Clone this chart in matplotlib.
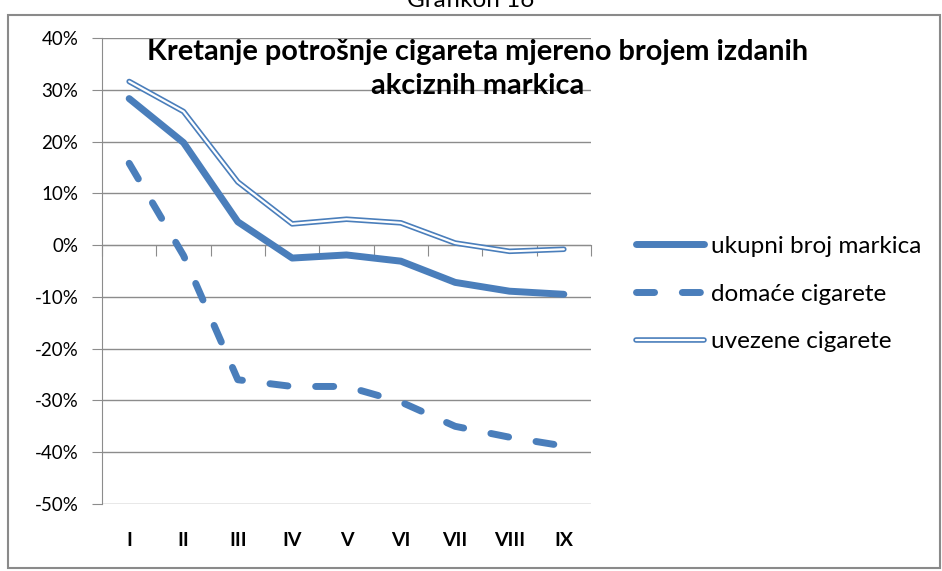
import matplotlib
matplotlib.use("Agg")
import matplotlib.pyplot as plt
from matplotlib.lines import Line2D
from matplotlib.patches import Rectangle

# Podaci (%)
months = ["I", "II", "III", "IV", "V", "VI", "VII", "VIII", "IX"]
ukupni = [28.3, 19.8, 4.5, -2.5, -1.9, -3.1, -7.2, -8.9, -9.5]
domace = [15.8, -2.0, -26.0, -27.3, -27.3, -30.3, -35.0, -37.1, -38.8]
uvezene = [31.6, 25.8, 12.2, 4.1, 5.0, 4.3, 0.4, -1.2, -0.8]

labels = ["ukupni broj markica", "domaće cigarete", "uvezene cigarete"]
yticks = list(range(-50, 41, 10))

blue = "#4a7ebb"
grid_col = "#8c8c8c"

plt.rcParams["font.family"] = ["Lato", "DejaVu Sans"]
plt.rcParams["lines.scale_dashes"] = False

W, H = 942, 571
fig = plt.figure(figsize=(W / 100, H / 100), dpi=100)
ax = fig.add_axes([102 / W, 1 - 504 / H, (591 - 102) / W, (504 - 38) / H])

x = list(range(len(months)))

ax.plot(x, ukupni, color=blue, lw=5.0, solid_capstyle="round",
        solid_joinstyle="round", zorder=4)
ax.plot(x, domace, color=blue, lw=5.0, dashes=(13, 20),
        dash_capstyle="round", dash_joinstyle="round", zorder=4)
ax.plot(x, uvezene, color=blue, lw=4.0, solid_capstyle="round",
        solid_joinstyle="round", zorder=4)
ax.plot(x, uvezene, color="white", lw=1.6, solid_capstyle="round",
        solid_joinstyle="round", zorder=5)

ax.set_xlim(-0.5, len(months) - 0.5)
ax.set_ylim(-50, 40)
ax.set_yticks(yticks)
ax.set_yticklabels([f"{v}%" for v in yticks], fontsize=13.5)
ax.yaxis.grid(True, color=grid_col, lw=1.0)
ax.set_axisbelow(True)
ax.tick_params(axis="y", length=7, color=grid_col, pad=10)

ax.set_xticks(x)
ax.set_xticklabels(months, fontsize=14, fontweight="bold")
ax.tick_params(axis="x", length=0, pad=20)

for s in ["top", "right", "bottom"]:
    ax.spines[s].set_visible(False)
ax.spines["left"].set_color(grid_col)

# horizontalna os na 0%
sec = ax.secondary_xaxis(0, transform=ax.transData)
sec.set_xticks([i - 0.5 for i in range(len(months) + 1)])
sec.set_xticklabels([])
sec.tick_params(axis="x", direction="out", length=8, color=grid_col)
sec.spines["bottom"].set_color(grid_col)

fig.text(478 / W, 1 - 69 / H,
         "Kretanje potrošnje cigareta mjereno brojem izdanih\nakciznih markica",
         ha="center", va="center", fontsize=20.8, fontweight="bold",
         linespacing=1.35, multialignment="center", zorder=6)

handles = [
    Line2D([], [], color=blue, lw=5.0, solid_capstyle="round"),
    Line2D([], [], color=blue, lw=5.0, dashes=(13, 20), dash_capstyle="round"),
    (Line2D([], [], color=blue, lw=4.0, solid_capstyle="round"),
     Line2D([], [], color="white", lw=1.6, solid_capstyle="round")),
]
fig.legend(handles, labels, loc="upper left", bbox_to_anchor=(614 / W, 1 - 214 / H),
           frameon=False, fontsize=17.5, handlelength=2.8, handletextpad=0.28,
           labelspacing=1.1)

fig.patches.append(Rectangle((8 / W, 3 / H), 932 / W, 553 / H, transform=fig.transFigure,
                             fill=False, edgecolor="#8a8a8a", lw=1.5))
fig.text(0.5, 1 - 7 / H, "Grafikon 16", ha="center", va="baseline", fontsize=17.5)

fig.savefig("out.png", dpi=100)
